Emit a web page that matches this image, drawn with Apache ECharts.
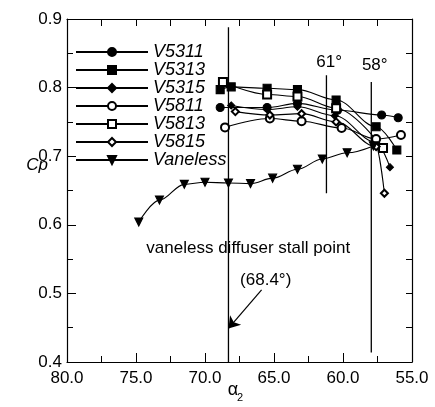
<!DOCTYPE html>
<html><head><meta charset="utf-8">
<script src="https://cdn.jsdelivr.net/npm/echarts@6/dist/echarts.min.js"></script>
<style>html,body{margin:0;padding:0;background:#fff}#c{width:435px;height:407px}</style>
</head><body><div id="c"></div>
<script>
// ---- data (alpha2 in degrees, Cp) ----
const seriesNames = ['V5311','V5313','V5315','V5811','V5813','V5815','Vaneless'];
const V5311 = [[68.9,0.771],[65.5,0.771],[63.3,0.777],[60.4,0.767],[57.2,0.760],[56.0,0.756]];
const V5313 = [[68.9,0.797],[68.1,0.801],[65.5,0.799],[63.3,0.797],[60.5,0.782],[57.6,0.743],[56.1,0.709]];
const V5315 = [[68.1,0.774],[65.5,0.768],[63.3,0.772],[60.6,0.759],[57.6,0.720],[56.6,0.684]];
const V5811 = [[68.55,0.742],[65.3,0.755],[63.0,0.751],[60.1,0.741],[57.6,0.725],[55.8,0.731]];
const V5813 = [[68.7,0.808],[65.5,0.790],[63.3,0.787],[60.5,0.770],[57.1,0.712]];
const V5815 = [[67.8,0.765],[65.3,0.760],[63.0,0.762],[60.5,0.750],[57.6,0.714],[57.0,0.646]];
const Vaneless = [[74.8,0.604],[73.3,0.636],[71.5,0.659],[70.0,0.662],[68.3,0.661],[66.7,0.660],[65.1,0.668],[63.3,0.681],[61.5,0.696],[59.7,0.705],[57.8,0.715]];
const xTickLabels = [80,75,70,65,60,55];
const yTickLabels = [0.4,0.5,0.6,0.7,0.8,0.9];
// reference lines: angle, low Cp, high Cp
const refStall = [[68.3,0.4],[68.3,0.888]];
const ref61 = [[61.2,0.646],[61.2,0.818]];
const ref58 = [[57.95,0.414],[57.95,0.808]];
const arrowCoords = [[65.9,0.505],[68.3,0.449]];
const annotations = [
  {text:'61°', a:61.0, cp:0.837, align:'center'},
  {text:'58°', a:57.7, cp:0.833, align:'center'},
  {text:'vaneless diffuser stall point', a:74.25, cp:0.566, align:'left'},
  {text:'(68.4°)', a:65.6, cp:0.519, align:'center'}
];

const FONT = '"Liberation Sans", Arial, sans-serif';
const symbols = {
  V5311:{symbol:'circle', size:8},
  V5313:{symbol:'rect', size:8},
  V5315:{symbol:'diamond', size:7},
  V5811:{symbol:'emptyCircle', size:8},
  V5813:{symbol:'emptyRect', size:8},
  V5815:{symbol:'emptyDiamond', size:7},
  Vaneless:{symbol:'triangle', size:8, rotate:180}
};
const dataMap = {V5311, V5313, V5315, V5811, V5813, V5815, Vaneless};

const series = seriesNames.map(n => ({
  name:n, type:'line', data:dataMap[n], smooth:0.35, smoothMonotone:'x',
  symbol:symbols[n].symbol, symbolSize:symbols[n].size, symbolRotate:symbols[n].rotate||0,
  showAllSymbol:true,
  lineStyle:{color:'#000', width:1.1},
  itemStyle:{color:'#000', borderColor:'#000', borderWidth:1.1},
  z:3
}));
[refStall, ref61, ref58].forEach((d,i) => series.push({
  name:'ref'+i, type:'line', data:d, symbol:'none', silent:true,
  lineStyle:{color:'#000', width:1.3}, z:2
}));
series.push({
  name:'arrow', type:'lines', coordinateSystem:'cartesian2d',
  data:[{coords:arrowCoords}], symbol:['none','arrow'], symbolSize:11,
  lineStyle:{color:'#000', width:1.2, opacity:1}, z:4
});

const chart = echarts.init(document.getElementById('c'), null, {renderer:'canvas'});
const axisCommon = {
  type:'value', splitLine:{show:false},
  axisLine:{show:true, lineStyle:{color:'#000', width:1.2}},
};
chart.setOption({
  backgroundColor:'#fff',
  animation:false,
  grid:{left:67, right:23, top:19, bottom:45},
  legend:{
    data:seriesNames, orient:'vertical', left:70, top:38,
    itemWidth:72, itemHeight:10, itemGap:0,
    textStyle:{fontFamily:FONT, fontSize:18, fontStyle:'italic', color:'#000', lineHeight:18}
  },
  xAxis:[
    Object.assign({}, axisCommon, {
      min:55, max:80, interval:5, inverse:true, position:'bottom',
      axisTick:{show:true, inside:true, length:9, lineStyle:{color:'#000'}},
      minorTick:{show:true, splitNumber:2, length:6, lineStyle:{color:'#000'}},
      axisLabel:{fontFamily:FONT, fontSize:17, color:'#000', margin:8,
        formatter:v => xTickLabels.includes(v) ? v.toFixed(1) : ''}
    }),
    Object.assign({}, axisCommon, {
      min:55, max:80, interval:2.5, inverse:true, position:'top',
      axisTick:{show:true, inside:true, length:7, lineStyle:{color:'#000'}},
      axisLabel:{show:false}
    })
  ],
  yAxis:[
    Object.assign({}, axisCommon, {
      min:0.4, max:0.9, interval:0.1, position:'left',
      axisTick:{show:true, inside:true, length:9, lineStyle:{color:'#000'}},
      minorTick:{show:true, splitNumber:2, length:6, lineStyle:{color:'#000'}},
      axisLabel:{fontFamily:FONT, fontSize:17, color:'#000', margin:5,
        formatter:v => { const r = Math.round(v*10)/10; return yTickLabels.includes(r) ? r.toFixed(1) : ''; }}
    }),
    Object.assign({}, axisCommon, {
      min:0.4, max:0.9, interval:0.05, position:'right',
      axisTick:{show:true, inside:true, length:6, lineStyle:{color:'#000'}},
      axisLabel:{show:false}
    })
  ],
  series:series
});

const g = [];
annotations.forEach(an => {
  const p = chart.convertToPixel({xAxisIndex:0, yAxisIndex:0}, [an.a, an.cp]);
  g.push({type:'text', x:p[0], y:p[1], z:10, style:{text:an.text, fontFamily:FONT, fontSize:17,
    fill:'#000', align:an.align, verticalAlign:'middle', backgroundColor:'transparent'}});
});
g.push({type:'text', x:37, y:165, style:{text:'Cp', fontFamily:FONT, fontSize:17, fontStyle:'italic',
  fill:'#000', align:'center', verticalAlign:'middle'}});
g.push({type:'text', x:233, y:390, style:{text:'α', fontFamily:FONT, fontSize:18,
  fill:'#000', align:'center', verticalAlign:'middle'}});
g.push({type:'text', x:240, y:398, style:{text:'2', fontFamily:FONT, fontSize:11,
  fill:'#000', align:'center', verticalAlign:'middle'}});
chart.setOption({graphic:g});
</script></body></html>
